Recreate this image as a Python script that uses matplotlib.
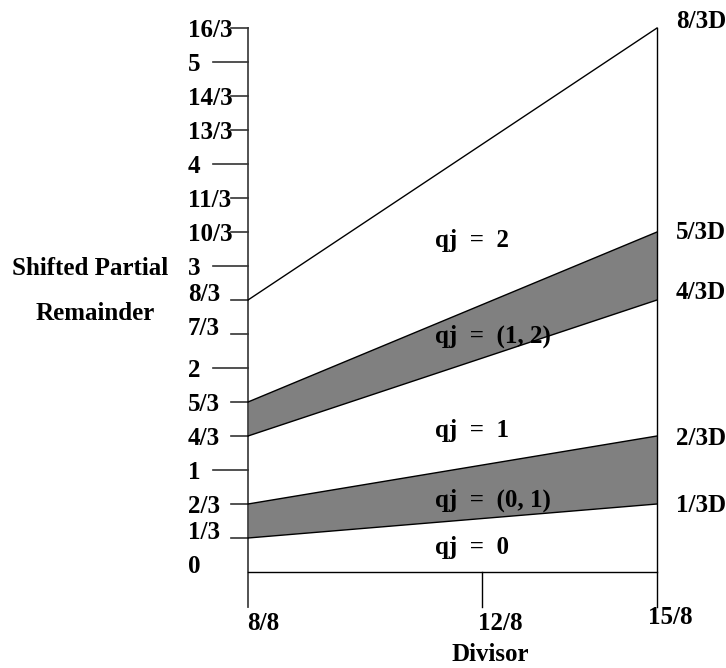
import matplotlib
matplotlib.use('Agg')
import matplotlib.pyplot as plt

# P-D plot data (values in units of the divisor range)
y_ticks = [16/3, 5, 14/3, 13/3, 4, 11/3, 10/3, 3, 8/3, 7/3, 2, 5/3, 4/3, 1, 2/3, 1/3]
y_labels = ['16/3', '5', '14/3', '13/3', '4', '11/3', '10/3', '3', '8/3', '7/3',
            '2', '5/3', '4/3', '1', '2/3', '1/3']
x_ticks = [8/8, 12/8, 15/8]
x_labels = ['8/8', '12/8', '15/8']

# boundary lines: value at D = 8/8 and at D = 15/8
bound_left = [1/3, 2/3, 4/3, 5/3, 8/3]
bound_right = [2/3, 4/3, 8/3, 10/3, 16/3]
right_labels = ['1/3D', '2/3D', '4/3D', '5/3D', '8/3D']
shaded = [(0, 1), (2, 3)]  # pairs of boundaries that enclose a gray band

region_labels = ['qj  =  2', 'qj  =  (1, 2)', 'qj  =  1', 'qj  =  (0, 1)', 'qj  =  0']

plt.rcParams['font.family'] = ['Liberation Serif', 'DejaVu Serif']
plt.rcParams['font.weight'] = 'bold'
FS = 18

fig = plt.figure(figsize=(7.26, 6.68), dpi=100)
ax = fig.add_axes([0, 0, 1, 1])
ax.axis('off')

# map data to pixels: D=1 at x=248px, D=15/8 at 657px ; y=0 at 572px, 102px per unit
kx = 409 / (15/8 - 1)
ky = 102.0
ax.set_xlim(1 - 248 / kx, 1 + (726 - 248) / kx)
ax.set_ylim(-(668 - 572) / ky, 572 / ky)


def px(x_px):
    return 1 + (x_px - 248) / kx


def py(y_px):
    return (572 - y_px) / ky


x0, x1 = x_ticks[0], x_ticks[-1]
ybot = py(607)

# gray bands
for lo, hi in shaded:
    ax.fill([x0, x1, x1, x0],
            [bound_left[lo], bound_right[lo], bound_right[hi], bound_left[hi]],
            color='#808080', zorder=1, lw=0)

# boundary lines
for yl, yr in zip(bound_left, bound_right):
    ax.plot([x0, x1], [yl, yr], color='black', lw=1.0, zorder=3)

# frame: left axis, right edge, x axis and middle tick
ax.plot([x0, x0], [y_ticks[0], ybot], color='#444444', lw=1.3, zorder=2)
ax.plot([x1, x1], [bound_right[-1], ybot], color='black', lw=1.0, zorder=2)
ax.plot([x0, x1], [0, 0], color='black', lw=1.0, zorder=2)
ax.plot([x_ticks[1], x_ticks[1]], [0, ybot], color='black', lw=1.0, zorder=2)

# y ticks and labels
low_labels = {'8/3', '7/3', '1/3'}
for v, lab in zip(y_ticks, y_labels):
    tick_len = 35 if '/' not in lab else 17
    ax.plot([x0 - tick_len / kx, x0], [v, v], color='#333333', lw=1.2, zorder=2)
    off = 1 if lab in low_labels else 9
    ax.text(px(188), v - off / ky, lab, fontsize=FS, ha='left', va='baseline')
ax.text(px(188), 0 - 1 / ky, '0', fontsize=FS, ha='left', va='baseline')

# right labels
right_off = [8, 9, -1, 7, 0]
for v, lab, off in zip(bound_right, right_labels, right_off):
    ax.text(px(676), v - off / ky, lab, fontsize=FS, ha='left', va='baseline')

# x labels
x_base = [630, 630, 624]
x_left = [247, 478, 648]
for lab, xl, yb in zip(x_labels, x_left, x_base):
    ax.text(px(xl), py(yb), lab, fontsize=FS, ha='left', va='baseline')
ax.text(px(490), py(661), 'Divisor', fontsize=FS, ha='center', va='baseline')

# y title
ax.text(px(90), py(275), 'Shifted Partial', fontsize=FS, ha='center', va='baseline')
ax.text(px(95), py(320), 'Remainder', fontsize=FS, ha='center', va='baseline')

# region labels
region_base = [247, 343, 437, 507, 554]
for lab, yb in zip(region_labels, region_base):
    ax.text(px(435), py(yb), lab, fontsize=FS, ha='left', va='baseline', zorder=2)

fig.savefig('out.png', dpi=100, facecolor='white')
